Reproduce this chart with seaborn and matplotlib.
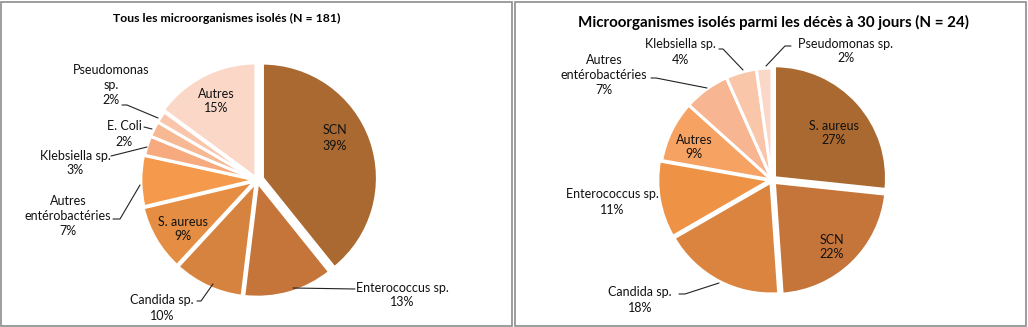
import matplotlib
matplotlib.use("Agg")
import matplotlib.pyplot as plt
from matplotlib.patches import Rectangle
import seaborn as sns

# ---------------- data ----------------
left_title = "Tous les microorganismes isolés (N = 181)"
left_labels = ["SCN", "Enterococcus sp.", "Candida sp.", "S. aureus",
               "Autres\nentérobactéries", "Klebsiella sp.", "E. Coli",
               "Pseudomonas\nsp.", "Autres"]
left_counts = [71, 23, 18, 17, 13, 5, 4, 3, 27]
left_colors = ["#AA6930", "#C5753A", "#D6833F", "#E58D42", "#F59A4C",
               "#F6AA7E", "#F7B994", "#F9C6AB", "#FBD7C8"]

right_title = "Microorganismes isolés parmi les décès à 30 jours (N = 24)"
right_labels = ["S. aureus", "SCN", "Candida sp.", "Enterococcus sp.", "Autres",
                "Autres\nentérobactéries", "Klebsiella sp.", "Pseudomonas sp."]
right_counts = [12, 10, 8, 5, 4, 3, 2, 1]
right_colors = ["#AA6930", "#C5753A", "#DA843F", "#EE9245", "#F6A262",
                "#F7B591", "#F9C6AA", "#FBD7C8"]

# ---------------- layout (pixels in a 1028x327 canvas) ----------------
W, H = 1028, 327
left_layout = dict(
    center=(257, 180), radius=115,
    explode=[0.05, 0.02, 0.02, 0.02, 0.01, 0.0, 0.0, 0.0, 0.02],
    title=(227, 18, 8.8),
    text=[(335, 138), (402, 295), (162, 308), (183, 229), (68, 216),
          (75, 163), (124, 134), (111, 85), (216, 101)],
    leaders=[None,
             [(355, 289), (293, 288)],
             [(197, 301), (201, 301), (213, 284)],
             None,
             [(113, 219), (120, 219), (140, 185)],
             [(111, 156), (147, 147)],
             [(144, 127), (152, 129)],
             [(122, 105), (127, 105), (158, 118)],
             None],
)
right_layout = dict(
    center=(772, 180), radius=112,
    explode=[0.03, 0.03, 0.02, 0.02, 0.0, 0.0, 0.0, 0.0],
    title=(773, 22, 10.9),
    text=[(834, 133), (832, 247), (640, 300), (612, 202), (694, 147),
          (604, 75), (680, 52), (846, 51)],
    leaders=[None, None,
             [(679, 294), (685, 294), (719, 283)],
             None, None,
             [(651, 78), (656, 78), (707, 88)],
             [(719, 49), (723, 49), (743, 70)],
             [(791, 46), (785, 46), (766, 66)]],
)

sns.set_theme(style="white")
plt.rcParams["font.family"] = ["Lato", "DejaVu Sans"]

fig = plt.figure(figsize=(W / 100, H / 100), dpi=100)
fig.patch.set_facecolor("white")

# panel borders
for x0, x1 in [(1, 512), (515, 1026)]:
    fig.patches.append(Rectangle((x0 / W, 1 / H), (x1 - x0) / W, (H - 2.5) / H,
                                 transform=fig.transFigure, fill=False,
                                 edgecolor="#8C8C8C", linewidth=1.2))


def draw(labels, counts, colors, title, lay):
    cx, cy = lay["center"]
    R = lay["radius"]
    ax = fig.add_axes([(cx - R) / W, (H - cy - R) / H, 2 * R / W, 2 * R / H])
    ax.pie(counts, colors=colors, startangle=90, counterclock=False,
           explode=lay["explode"], radius=1.0,
           wedgeprops=dict(edgecolor="white", linewidth=2.2))
    ax.set_xlim(-1, 1)
    ax.set_ylim(-1, 1)
    ax.set_axis_off()

    def to_data(p):
        return ((p[0] - cx) / R, (cy - p[1]) / R)

    total = sum(counts)
    for lab, c, pos, lead in zip(labels, counts, lay["text"], lay["leaders"]):
        pct = round(100 * c / total)
        x, y = to_data(pos)
        ax.text(x, y, f"{lab}\n{pct}%", ha="center", va="center",
                fontsize=9, color="#111111", linespacing=1.3, clip_on=False)
        if lead:
            pts = [to_data(p) for p in lead]
            ax.plot([p[0] for p in pts], [p[1] for p in pts], color="#222222",
                    linewidth=0.8, clip_on=False)
    tx, ty, fs = lay["title"]
    fig.text(tx / W, 1 - ty / H, title, ha="center", va="center",
             fontsize=fs, fontweight="bold", color="black")


draw(left_labels, left_counts, left_colors, left_title, left_layout)
draw(right_labels, right_counts, right_colors, right_title, right_layout)

fig.savefig("out.png", dpi=100, facecolor="white")
